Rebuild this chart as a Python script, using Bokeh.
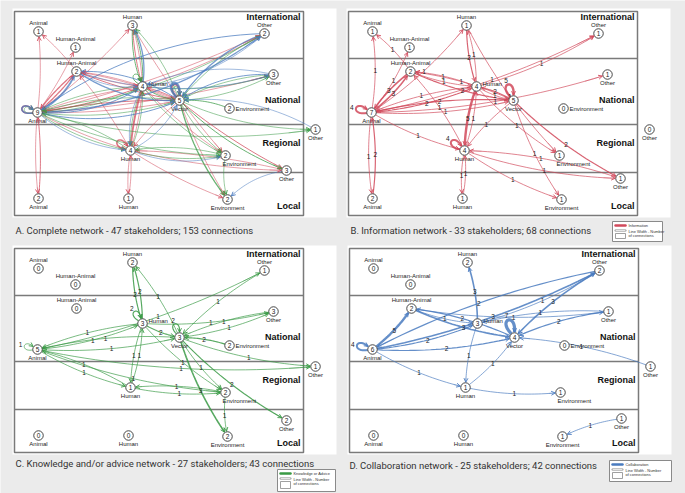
import numpy as np
from bokeh.plotting import figure
from bokeh.models import ColumnDataSource, Range1d, Arrow, OpenHead
from bokeh.embed import file_html
from bokeh.resources import INLINE
from bokeh.core.properties import value

# ---------------- data ----------------
node_keys = ["iA", "iHA", "iH", "iO", "nHA", "nH", "nV", "nO", "nE", "nA",
             "xO", "rH", "rE", "lO", "lA", "lH", "lE"]
node_names = ["Animal", "Human-Animal", "Human", "Other", "Human-Animal", "Human",
              "Vector", "Other", "Environment", "Animal", "Other", "Human",
              "Environment", "Other", "Animal", "Human", "Environment"]
counts_A = [1, 1, 3, 2, 2, 4, 5, 3, 2, 9, 1, 4, 2, 3, 2, 1, 2]
counts_B = [1, 1, 1, 1, 2, 4, 5, 1, 0, 7, 0, 4, 1, 1, 2, 1, 1]
counts_C = [0, 0, 2, 1, 0, 3, 3, 3, 2, 5, 1, 1, 2, 2, 0, 0, 2]
counts_D = [0, 0, 2, 2, 2, 3, 4, 1, 0, 6, 1, 1, 1, 1, 0, 0, 1]

levels = ["International", "National", "Regional", "Local"]

captions = ["A. Complete network - 47 stakeholders; 153 connections",
            "B. Information network - 33 stakeholders; 68 connections",
            "C. Knowledge and/or advice network - 27 stakeholders; 43 connections",
            "D. Collaboration network - 25 stakeholders; 42 connections"]
legend_labels = ["Information", "Knowledge or Advice", "Collaboration"]

info_edges = [("nA", "iA", 1), ("nHA", "iA", 1), ("nA", "iHA", 1), ("nA", "iH", 1),
              ("nA", "nHA", 3), ("nHA", "nA", 3), ("nA", "nA", 4), ("nHA", "nH", 1),
              ("nH", "nHA", 1), ("nA", "iO", 1), ("nH", "iO", 1), ("iH", "nH", 2),
              ("nH", "iH", 1), ("nA", "nH", 2), ("nH", "nA", 1), ("nHA", "nV", 2),
              ("nV", "nHA", 1), ("nA", "nO", 1), ("nV", "nV", 5), ("nH", "nV", 1),
              ("nV", "nH", 2), ("nA", "nV", 1), ("nV", "nA", 2), ("rH", "nHA", 1),
              ("nA", "rH", 1), ("nH", "rH", 5), ("rH", "nH", 1), ("rH", "rH", 4),
              ("nV", "rH", 1), ("nH", "rE", 1), ("iH", "rE", 1), ("nV", "lE", 1),
              ("nV", "lO", 2), ("rH", "lO", 1), ("lO", "rH", 1), ("rH", "lE", 1),
              ("rH", "lH", 1), ("lH", "rH", 1), ("nA", "lA", 1), ("lA", "nA", 2)]

know_edges = [("iH", "nH", 2), ("nH", "iH", 2), ("nV", "iH", 1), ("nA", "iO", 1),
              ("iO", "nV", 1), ("nH", "nH", 2), ("nA", "nH", 1), ("nH", "nA", 1),
              ("nH", "nO", 1), ("nV", "nO", 1), ("nO", "nV", 1), ("nH", "nV", 2),
              ("nV", "nV", 2), ("nE", "nV", 2), ("nA", "nV", 1), ("nV", "nA", 1),
              ("nV", "xO", 1), ("nA", "xO", 1), ("nA", "nA", 1), ("nH", "rH", 1),
              ("rH", "nH", 1), ("nA", "rH", 1), ("rH", "nA", 1), ("nA", "rE", 1),
              ("rH", "rE", 1), ("rE", "rH", 1), ("nV", "lE", 3), ("nV", "lO", 2),
              ("rE", "lE", 1), ("nV", "rE", 1), ("nH", "rE", 1)]

collab_edges = [("nH", "iH", 3), ("nA", "iO", 3), ("iO", "nV", 3), ("nA", "nHA", 5),
                ("nA", "nA", 4), ("nHA", "nH", 1), ("nHA", "nV", 3), ("nV", "nHA", 2),
                ("nV", "nV", 7), ("nHA", "nO", 1), ("nO", "nH", 1), ("nO", "nV", 2),
                ("nA", "nH", 2), ("nA", "nV", 2), ("xO", "nV", 1), ("nH", "rH", 1),
                ("rH", "nV", 1), ("nA", "rH", 1), ("rH", "rE", 1), ("lO", "lE", 1),
                ("iO", "nA", 2), ("nH", "iO", 1)]

# ---------------- layout / style ----------------
node_rel = {"iA": (24, 20), "iHA": (61, 36), "iH": (118, 14), "iO": (250, 22),
            "nHA": (62, 60), "nH": (128, 75), "nV": (165, 89), "nO": (259, 63),
            "nE": (215, 97), "nA": (23, 101), "xO": (301, 118), "rH": (116, 139),
            "rE": (211, 144), "lO": (272, 159), "lA": (24, 187), "lH": (114, 187),
            "lE": (213, 188)}
label_pos = {"iA": "above", "iHA": "above", "iH": "above", "iO": "above",
             "nHA": "above", "nH": "right", "nV": "below", "nO": "below",
             "nE": "right", "nA": "below", "xO": "below", "rH": "below",
             "rE": "belowright", "lO": "below", "lA": "below", "lH": "below",
             "lE": "below"}
loop_dir = {"nA": 195, "nV": 250, "nH": 235, "rH": 215}
origins = [(14, 11), (348, 11), (14, 248), (349, 248)]
lO_y = [159, 167, 172, 170]
bands = [0, 47, 113, 161, 204]
BOX_W = 289
level_y = [5, 88, 131, 194]
colors = ["#d1495b", "#3a9a45", "#4a7bbf"]
legend_boxes = [None, (612, 221, 50, 20), (277, 469, 58, 22), (609, 460, 62, 21)]
caption_pos = [(15, 230), (350, 230), (15, 463), (349, 465)]

LAB_FONT = value("Liberation Sans")
CAP_FONT = value("Roboto")

W, H = 685, 493
p = figure(width=W, height=H, x_range=Range1d(0, W), y_range=Range1d(H, 0),
           output_backend="svg", toolbar_location=None, min_border=0,
           x_axis_type=None, y_axis_type=None)
p.grid.visible = False
p.outline_line_color = None
p.background_fill_color = "#ebebeb"
p.border_fill_color = "#ebebeb"


def bez2(p0, c, p1, n=26):
    t = np.linspace(0, 1, n)[:, None]
    return (1 - t) ** 2 * p0 + 2 * (1 - t) * t * c + t ** 2 * p1


def edge_geom(P, Q, bend):
    d = Q - P
    L = np.hypot(*d)
    nrm = np.array([-d[1], d[0]]) / L
    c = (P + Q) / 2 + nrm * bend * L
    u0 = (c - P) / np.linalg.norm(c - P)
    u1 = (c - Q) / np.linalg.norm(c - Q)
    return bez2(P + u0 * 4.8, c, Q + u1 * 5.3)


def loop_geom(P, theta_deg, size):
    th = np.radians(theta_deg)
    dv = lambda a: np.array([np.cos(a), np.sin(a)])
    p0 = P + 4.8 * dv(th - 0.35)
    p3 = P + 5.3 * dv(th + 0.35)
    c1 = P + size * dv(th - 0.42)
    c2 = P + size * dv(th + 0.42)
    t = np.linspace(0, 1, 26)[:, None]
    pts = (1 - t) ** 3 * p0 + 3 * (1 - t) ** 2 * t * c1 + 3 * (1 - t) * t ** 2 * c2 + t ** 3 * p3
    return pts, P + (size * 0.8 + 3) * dv(th)


def node_xy(panel, key):
    ox, oy = origins[panel]
    rx, ry = node_rel[key]
    if key == "lO":
        ry = lO_y[panel]
    return np.array([ox + rx, oy + ry], dtype=float)


def draw_edges(panel, edges, color, bend, with_labels, wscale, alpha):
    xs, ys, ws = [], [], []
    ax0, ay0, ax1, ay1 = [], [], [], []
    lx, ly, lt = [], [], []
    for s, t, w in edges:
        P = node_xy(panel, s)
        if s == t:
            pts, lab = loop_geom(P, loop_dir.get(s, 240), 17 + 1.2 * w)
        else:
            Q = node_xy(panel, t)
            pts = edge_geom(P, Q, bend)
            lab = pts[len(pts) // 2]
        xs.append(list(pts[:, 0]))
        ys.append(list(pts[:, 1]))
        ws.append(wscale[0] + wscale[1] * (w - 1))
        ax0.append(pts[-3, 0]); ay0.append(pts[-3, 1])
        ax1.append(pts[-1, 0]); ay1.append(pts[-1, 1])
        lx.append(lab[0]); ly.append(lab[1]); lt.append(str(w))
    p.multi_line(xs="xs", ys="ys", line_width="w", line_color=color, line_alpha=alpha,
                 source=ColumnDataSource(dict(xs=xs, ys=ys, w=ws)))
    asrc = ColumnDataSource(dict(x0=ax0, y0=ay0, x1=ax1, y1=ay1))
    p.add_layout(Arrow(end=OpenHead(size=4, line_color=color, line_width=0.9),
                       source=asrc, x_start="x0", y_start="y0", x_end="x1", y_end="y1",
                       line_color=color, line_width=0.7, line_alpha=0.5))
    if with_labels:
        p.text(x="x", y="y", text="t", source=ColumnDataSource(dict(x=lx, y=ly, t=lt)),
               text_font=LAB_FONT, text_font_size="6.5px", text_color="#222",
               text_align="center", text_baseline="middle")


panel_counts = [counts_A, counts_B, counts_C, counts_D]
networks = [info_edges, know_edges, collab_edges]

for pi in range(4):
    ox, oy = origins[pi]
    # white panel
    p.quad(left=ox - 2, right=ox + 322, top=oy - 3, bottom=oy + 206,
           fill_color="white", line_color=None)
    # bands
    p.quad(left=ox, right=ox + BOX_W, top=oy + bands[0], bottom=oy + bands[-1],
           fill_color="white", line_color="#7a7a7a", line_width=1.5)
    p.segment(x0=[ox] * 3, x1=[ox + BOX_W] * 3, y0=[oy + b for b in bands[1:4]],
              y1=[oy + b for b in bands[1:4]], line_color="#7a7a7a", line_width=1.5)
    p.text(x=[ox + BOX_W - 3] * 4, y=[oy + v for v in level_y], text=levels,
           text_font=LAB_FONT, text_font_size="9px", text_font_style="bold",
           text_color="#111", text_align="right", text_baseline="middle")
    # edges
    if pi == 0:
        for k, edges in enumerate(networks):
            draw_edges(0, edges, colors[k], 0.05 + 0.05 * k, False, (0.7, 0.3), 0.75)
    else:
        draw_edges(pi, networks[pi - 1], colors[pi - 1], 0.07, True, (0.8, 0.4), 0.85)
    # nodes
    nx, ny, nt = [], [], []
    lxa, lya, lta, lal = [], [], [], []
    for i, key in enumerate(node_keys):
        P = node_xy(pi, key)
        nx.append(P[0]); ny.append(P[1]); nt.append(str(panel_counts[pi][i]))
        pos = label_pos[key]
        if pos == "above":
            lxa.append(P[0]); lya.append(P[1] - 8.5); lal.append("center")
        elif pos == "below":
            lxa.append(P[0]); lya.append(P[1] + 8.5); lal.append("center")
        elif pos == "right":
            lxa.append(P[0] + 6); lya.append(P[1] - 3 if key == "nH" else P[1]); lal.append("left")
        else:
            lxa.append(P[0] - 3); lya.append(P[1] + 8); lal.append("left")
        lta.append(node_names[i])
    p.scatter(x=nx, y=ny, size=9.5, marker="circle", fill_color="white",
              line_color="#333", line_width=0.9)
    p.text(x=nx, y=ny, text=nt, text_font=LAB_FONT, text_font_size="6.5px",
           text_color="#222", text_align="center", text_baseline="middle")
    p.text(x="x", y="y", text="t", text_align="a",
           source=ColumnDataSource(dict(x=lxa, y=lya, t=lta, a=lal)),
           text_font=LAB_FONT, text_font_size="6px", text_color="#222",
           text_baseline="middle")
    # caption
    cx, cy = caption_pos[pi]
    p.text(x=[cx], y=[cy], text=[captions[pi]], text_font=CAP_FONT,
           text_font_size="9.5px", text_color="#333", text_baseline="middle")
    # legend
    if legend_boxes[pi] is not None:
        bx, by, bw, bh = legend_boxes[pi]
        col = colors[pi - 1]
        p.quad(left=bx, right=bx + bw, top=by, bottom=by + bh, fill_color="white",
               line_color="#8a8a8a", line_width=1)
        p.segment(x0=[bx + 3], x1=[bx + 13], y0=[by + 4], y1=[by + 4],
                  line_color=col, line_width=2.5, line_cap="round")
        p.segment(x0=[bx + 3], x1=[bx + 13], y0=[by + 9], y1=[by + 9],
                  line_color="#888", line_width=2, line_cap="round")
        p.segment(x0=[bx + 3], x1=[bx + 13], y0=[by + 9], y1=[by + 9],
                  line_color="white", line_width=0.8)
        p.quad(left=[bx + 3], right=[bx + 13], top=[by + 12], bottom=[by + bh - 3],
               fill_color="white", line_color="#888", line_width=0.8)
        p.text(x=[bx + 16, bx + 16, bx + 16], y=[by + 4, by + 9.5, by + 14],
               text=[legend_labels[pi - 1], "Line Width - Number", "of connections"],
               text_font=LAB_FONT, text_font_size="3.9px", text_color="#333",
               text_baseline="middle")

open("out.html", "w").write(file_html(p, INLINE))
